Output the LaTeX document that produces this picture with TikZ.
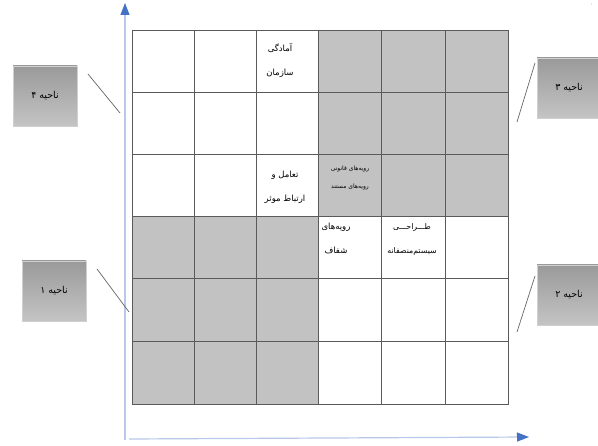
\documentclass[tikz,border=0pt]{standalone}
\usepackage{fontspec}
\usepackage{xcolor}
\usepackage{tikz}
\usetikzlibrary{arrows.meta}
\TeXXeTstate=1
\newfontfamily\arabicfont[Script=Arabic]{DejaVu Sans}
\newcommand{\fatext}[1]{{\arabicfont\beginR #1\endR}}
\definecolor{cellgray}{HTML}{C2C2C2}
\definecolor{gridline}{HTML}{5A5A5A}
\definecolor{axisline}{HTML}{B7C8E8}
\definecolor{axisblue}{HTML}{4472C4}
\definecolor{boxtop}{HTML}{9A9A9A}
\definecolor{boxbottom}{HTML}{C4C4C4}
\tikzset{
  regionbox/.style={minimum width=64pt,minimum height=60pt,inner sep=0pt,
    top color=boxtop,bottom color=boxbottom,draw=boxbottom!80!white,
    font=\fontsize{9.5}{10}\selectfont},
  celltext/.style={font=\fontsize{8.5}{24}\selectfont,align=center,inner sep=1pt},
  smalltext/.style={font=\fontsize{6}{18}\selectfont,align=center,inner sep=1pt},
}

\begin{document}
\begin{tikzpicture}[x=1pt,y=-1pt]
      \useasboundingbox[fill=white] (0,0) rectangle (598,446);
      % shaded quarters
      \fill[cellgray] (318,30) rectangle (508,216);
      \fill[cellgray] (132,216) rectangle (318,404);
      % grid
      \foreach \gx in {194,256,318,381,445}
        \draw[gridline,line width=0.8pt] (\gx,30) -- (\gx,404);
      \foreach \gy in {92,154,216,278,341}
        \draw[gridline,line width=0.8pt] (132,\gy) -- (508,\gy);
      \draw[gridline,line width=0.9pt] (132,30) rectangle (508,404);
      % axes
      \coordinate (origin) at (125,440);
      \coordinate (ytip) at (125,3);
      \coordinate (xtip) at (529,437);
      \draw[axisline,line width=1.2pt,-{Triangle[length=12pt,width=9pt,color=axisblue]}] (origin) -- (ytip);
      \draw[axisline,line width=1.2pt,-{Triangle[length=12pt,width=9pt,color=axisblue]}] (129,439) -- (xtip);
      % cell texts
      \node[celltext] (amadegi) at (280,61) {\fatext{آمادگی}\\\fatext{سازمان}};
      \node[celltext] (taamol) at (285,187) {\fatext{تعامل و}\\\fatext{ارتباط موثر}};
      \node[smalltext] (ravie) at (350,178) {\fatext{رویه‌های قانونی}\\\fatext{رویه‌های مستند}};
      \node[celltext] (shafaf) at (336,238) {\fatext{رویه‌های}\\\fatext{شفاف}};
      \node[celltext,font=\fontsize{7.8}{24}\selectfont] (tarahi) at (412,239) {\fatext{طـــراحـــی}\\\fatext{سیستم‌منصفانه}};
      % region labels
      \node[regionbox] (region4) at (45,96) {\fatext{ناحیه ۴}};
      \node[regionbox] (region3) at (569,88) {\fatext{ناحیه ۳}};
      \node[regionbox] (region1) at (54,291) {\fatext{ناحیه ۱}};
      \node[regionbox] (region2) at (569,295) {\fatext{ناحیه ۲}};
      \node[font=\fontsize{5}{5}\selectfont,text=gray] (tick) at (592,5) {,};
      \coordinate (r4a) at (88,74);
      \coordinate (r4b) at (120,113);
      \coordinate (r3a) at (535,63);
      \coordinate (r3b) at (517,122);
      \coordinate (r1a) at (97,269);
      \coordinate (r1b) at (129,312);
      \coordinate (r2a) at (535,276);
      \coordinate (r2b) at (517,332);
      \draw[gray!80!black,line width=0.7pt] (r4a) -- (r4b);
      \draw[gray!80!black,line width=0.7pt] (r3a) -- (r3b);
      \draw[gray!80!black,line width=0.7pt] (r1a) -- (r1b);
      \draw[gray!80!black,line width=0.7pt] (r2a) -- (r2b);
    \end{tikzpicture}
\end{document}
